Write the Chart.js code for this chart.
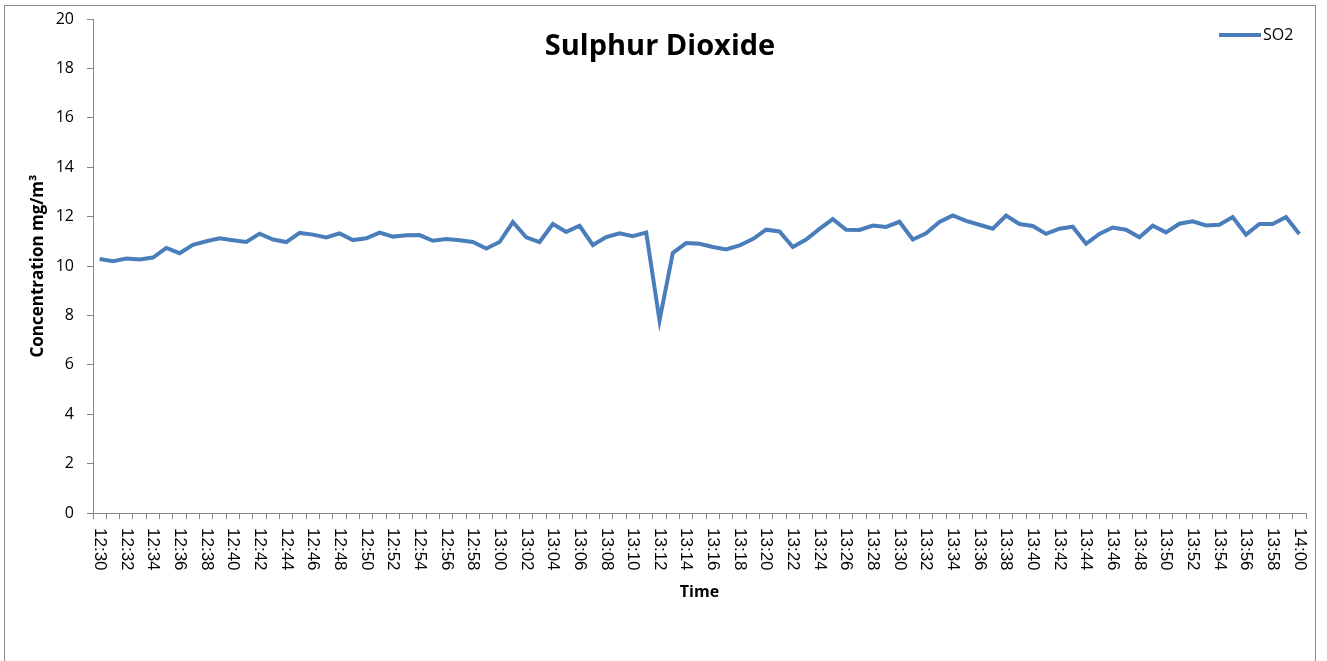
<!DOCTYPE html>
<html>
<head>
<meta charset="utf-8">
<script src="https://cdn.jsdelivr.net/npm/chart.js@4.4.1/dist/chart.umd.min.js"></script>
<style>
  body { margin: 0; background: #fff; }
  #wrap { width: 1327px; height: 661px; }
</style>
</head>
<body>
<div id="wrap"><canvas id="so2Chart"></canvas></div>
<script>
// one reading per minute, 12:30 - 14:00
const times = [
  '12:30','12:31','12:32','12:33','12:34','12:35','12:36','12:37','12:38','12:39',
  '12:40','12:41','12:42','12:43','12:44','12:45','12:46','12:47','12:48','12:49',
  '12:50','12:51','12:52','12:53','12:54','12:55','12:56','12:57','12:58','12:59',
  '13:00','13:01','13:02','13:03','13:04','13:05','13:06','13:07','13:08','13:09',
  '13:10','13:11','13:12','13:13','13:14','13:15','13:16','13:17','13:18','13:19',
  '13:20','13:21','13:22','13:23','13:24','13:25','13:26','13:27','13:28','13:29',
  '13:30','13:31','13:32','13:33','13:34','13:35','13:36','13:37','13:38','13:39',
  '13:40','13:41','13:42','13:43','13:44','13:45','13:46','13:47','13:48','13:49',
  '13:50','13:51','13:52','13:53','13:54','13:55','13:56','13:57','13:58','13:59',
  '14:00'
];
const so2 = [
  10.28, 10.19, 10.30, 10.26, 10.34, 10.73, 10.52, 10.86, 11.00, 11.12,
  11.04, 10.97, 11.31, 11.07, 10.97, 11.34, 11.27, 11.16, 11.32, 11.05,
  11.12, 11.35, 11.19, 11.24, 11.25, 11.02, 11.09, 11.04, 10.97, 10.71,
  10.97, 11.78, 11.16, 10.97, 11.70, 11.38, 11.63, 10.85, 11.17, 11.32,
  11.21, 11.36, 7.80, 10.53, 10.93, 10.90, 10.77, 10.67, 10.83, 11.09,
  11.47, 11.40, 10.77, 11.07, 11.50, 11.90, 11.47, 11.46, 11.64, 11.58,
  11.79, 11.07, 11.32, 11.78, 12.05, 11.83, 11.67, 11.51, 12.04, 11.70,
  11.62, 11.30, 11.51, 11.59, 10.90, 11.30, 11.56, 11.47, 11.16, 11.63,
  11.36, 11.71, 11.81, 11.64, 11.67, 11.98, 11.27, 11.70, 11.70, 11.98,
  11.30
];
const yTicks = [0, 2, 4, 6, 8, 10, 12, 14, 16, 18, 20];

const lineColor = '#4a7ebb';
const axisColor = '#868686';

// frame, title, legend and the top-down time labels
const decor = {
  id: 'decor',
  beforeDraw(chart) {
    const c = chart.ctx;
    c.save();
    c.fillStyle = '#fff';
    c.fillRect(0, 0, chart.width, chart.height);
    c.strokeStyle = '#8c8c8c';
    c.lineWidth = 1;
    c.strokeRect(4.5, 5.5, 1311, 700);
    c.restore();
  },
  afterDraw(chart) {
    const c = chart.ctx;
    const x = chart.scales.x;
    c.save();
    c.fillStyle = '#000';
    c.font = 'bold 29px "Open Sans"';
    c.textAlign = 'center';
    c.textBaseline = 'middle';
    c.fillText('Sulphur Dioxide', 660, 47);

    c.strokeStyle = lineColor;
    c.lineWidth = 4;
    c.beginPath();
    c.moveTo(1219, 35);
    c.lineTo(1261, 35);
    c.stroke();
    c.font = '16px "Open Sans"';
    c.textAlign = 'left';
    c.fillText(chart.data.datasets[0].label, 1263, 35);

    c.font = '17px "Liberation Sans"';
    c.textBaseline = 'middle';
    times.forEach((t, i) => {
      if (i % 2) return;
      c.save();
      c.translate(x.getPixelForValue(i), x.top + 15);
      c.rotate(Math.PI / 2);
      c.fillText(t, 0, 0);
      c.restore();
    });
    c.restore();
  }
};

new Chart(document.getElementById('so2Chart'), {
  type: 'line',
  data: {
    labels: times,
    datasets: [{
      label: 'SO2',
      data: so2,
      borderColor: lineColor,
      borderWidth: 4,
      pointRadius: 0,
      tension: 0,
      fill: false
    }]
  },
  options: {
    responsive: true,
    maintainAspectRatio: false,
    animation: false,
    layout: { padding: { top: 19, right: 21, left: 0, bottom: 0 } },
    plugins: {
      legend: { display: false },
      title: { display: false },
      tooltip: { enabled: false }
    },
    scales: {
      x: {
        offset: true,
        grid: { offset: true, drawOnChartArea: false, color: axisColor, tickLength: 6 },
        border: { color: axisColor },
        ticks: { color: 'transparent', autoSkip: false, maxRotation: 90, minRotation: 90 },
        title: {
          display: true, text: 'Time', color: '#000',
          font: { family: 'Open Sans', size: 16, weight: 'bold' },
          padding: { top: 0, bottom: 59 }
        },
        afterFit(s) { s.height = 148; s.paddingLeft = 0; s.paddingRight = 0; }
      },
      y: {
        min: 0,
        max: 20,
        afterBuildTicks(s) { s.ticks = yTicks.map(v => ({ value: v })); },
        grid: { drawOnChartArea: false, color: axisColor, tickLength: 6 },
        border: { color: axisColor },
        ticks: { color: '#000', padding: 13, font: { family: 'Open Sans', size: 16 } },
        title: {
          display: true, text: 'Concentration mg/m³', color: '#000',
          font: { family: 'Open Sans', size: 17, weight: 'bold' },
          padding: { top: 28, bottom: 0 }
        },
        afterFit(s) { s.width = 93; s.paddingTop = 0; s.paddingBottom = 0; }
      }
    }
  },
  plugins: [decor]
});
</script>
</body>
</html>
